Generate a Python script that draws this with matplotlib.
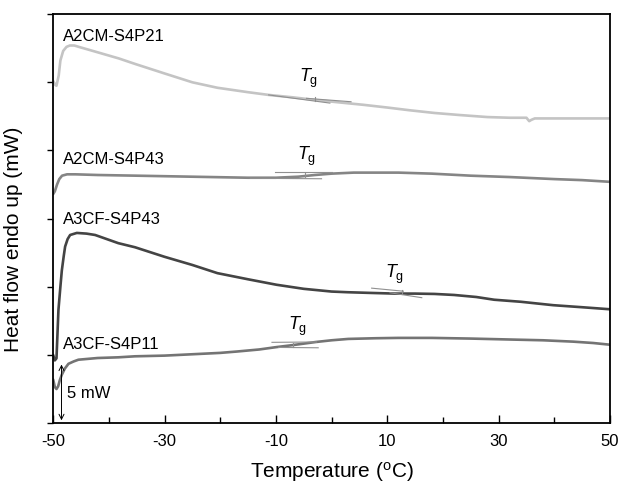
import matplotlib
matplotlib.use("Agg")
import matplotlib.pyplot as plt

plt.rcParams['font.family'] = ['Liberation Sans', 'DejaVu Sans']
plt.rcParams['mathtext.fontset'] = 'custom'
plt.rcParams['mathtext.rm'] = 'Liberation Sans'
plt.rcParams['mathtext.it'] = 'Liberation Sans:italic'
plt.rcParams['axes.unicode_minus'] = False

# ---- data (temperature in degC, heat flow in tick units; 1 unit ~ 5 mW) ----
x_a2cm_p21 = [-50, -49.6, -49.4, -49.0, -48.7, -48.2, -47.6, -47.0, -46.2, -45.4, -42, -38.2, -35.3,
              -30, -25, -20.5, -15, -11.3, -7, -2.8, 2, 5.7, 10, 14, 18.5, 23, 28, 32, 35.0, 35.5,
              35.9, 36.5, 40, 45, 50]
y_a2cm_p21 = [5.02, 4.96, 4.95, 5.10, 5.32, 5.46, 5.52, 5.54, 5.54, 5.52, 5.44, 5.35, 5.27,
              5.13, 5.00, 4.92, 4.855, 4.815, 4.78, 4.74, 4.70, 4.67, 4.63, 4.59, 4.55, 4.52, 4.49, 4.48,
              4.48, 4.43, 4.45, 4.47, 4.47, 4.47, 4.47]

x_a2cm_p43 = [-50, -49.7, -49.3, -48.9, -48.4, -47.5, -46, -42, -35, -25, -15, -10, -6, -3, 0, 4, 8,
              12, 18, 25, 32, 40, 45, 50]
y_a2cm_p43 = [3.36, 3.40, 3.50, 3.58, 3.63, 3.65, 3.65, 3.64, 3.63, 3.615, 3.60, 3.60, 3.615, 3.64,
              3.66, 3.675, 3.675, 3.675, 3.66, 3.63, 3.61, 3.58, 3.565, 3.54]

x_a3cf_p43 = [-50, -49.7, -49.4, -49.05, -48.7, -48.44, -48.1, -47.85, -47.4, -46.95, -45.75, -44,
              -42.46, -38.3, -35.3, -30, -25, -20.5, -15, -9.9, -5, 0, 2.9, 7, 11.4, 15, 18.5, 22, 26,
              29.2, 34, 39.8, 45, 50]
y_a3cf_p43 = [1.0, 0.92, 0.95, 1.66, 2.0, 2.24, 2.45, 2.59, 2.70, 2.76, 2.79, 2.78,
              2.76, 2.64, 2.58, 2.44, 2.32, 2.20, 2.11, 2.03, 1.97, 1.93, 1.92, 1.91, 1.90, 1.90, 1.895,
              1.88, 1.85, 1.81, 1.78, 1.73, 1.70, 1.67]

x_a3cf_p11 = [-50, -49.7, -49.4, -49.1, -48.8, -48.44, -47.9, -47.25, -46.3, -45.46, -42, -38.3,
              -35.3, -30, -25, -20, -17, -13, -9.9, -6.9, -2.8, 0, 3, 7.9, 12, 18, 25, 32.7, 38, 43.4,
              47, 50]
y_a3cf_p11 = [0.64, 0.53, 0.50, 0.54, 0.63, 0.71, 0.80, 0.87, 0.905, 0.93, 0.955, 0.965,
              0.98, 0.99, 1.01, 1.03, 1.05, 1.08, 1.115, 1.145, 1.19, 1.215, 1.235, 1.245, 1.25, 1.25,
              1.24, 1.225, 1.215, 1.195, 1.175, 1.15]

series_names = ['A2CM-S4P21', 'A2CM-S4P43', 'A3CF-S4P43', 'A3CF-S4P11']
series_colors = ['#c4c4c4', '#858585', '#444444', '#747474']
label_y = [5.67, 3.87, 2.98, 1.15]

# Tg tangent lines: (x0, y0, x1, y1)
tangents = [
    [(-11.3, 4.815, -0.3, 4.695), (-4.5, 4.765, 3.5, 4.715)],
    [(-10.1, 3.678, 0.0, 3.678), (-14.6, 3.592, -1.8, 3.585)],
    [(7.2, 1.98, 12.9, 1.935), (10.5, 1.912, 16.2, 1.84)],
    [(-10.7, 1.185, -2.7, 1.19), (-9.5, 1.11, -2.4, 1.105)],
]
tg_x = [-3.0, -4.8, 12.6, -6.9]
tg_y = [4.75, 3.635, 1.925, 1.15]
tg_label_xy = [(-4.2, 5.06), (-4.5, 3.91), (11.4, 2.18), (-6.1, 1.42)]

fig = plt.figure(figsize=(6.18, 4.88), dpi=100)
ax = fig.add_axes([0.086, 0.133, 0.901, 0.838])

xs = [x_a2cm_p21, x_a2cm_p43, x_a3cf_p43, x_a3cf_p11]
ys = [y_a2cm_p21, y_a2cm_p43, y_a3cf_p43, y_a3cf_p11]
for x, y, c in zip(xs, ys, series_colors):
    ax.plot(x, y, color=c, lw=1.9, solid_capstyle='round', solid_joinstyle='round')

for name, ly in zip(series_names, label_y):
    ax.text(-48.2, ly, name, fontsize=12, ha='left', va='center')

for tl in tangents:
    for (x0, y0, x1, y1) in tl:
        ax.plot([x0, x1], [y0, y1], color='#909090', lw=0.8)
for tx, ty in zip(tg_x, tg_y):
    ax.plot([tx, tx], [ty - 0.03, ty + 0.03], color='#909090', lw=0.8)
for (lx, ly) in tg_label_xy:
    ax.text(lx, ly, r'$T_{\mathregular{g}}$', fontsize=13, ha='center', va='center')

# 5 mW scale bar
ax.annotate('', xy=(-48.5, 0.0), xytext=(-48.5, 0.9),
            arrowprops=dict(arrowstyle='<->', color='black', lw=0.7, mutation_scale=9))
ax.text(-47.6, 0.44, '5 mW', fontsize=12, ha='left', va='center')

ax.set_xlim(-50, 50)
ax.set_ylim(0, 6)
ax.set_xticks([-50, -30, -10, 10, 30, 50])
ax.set_xticks([-40, -20, 0, 20, 40], minor=True)
ax.set_yticks([0, 1, 2, 3, 4, 5, 6])
ax.set_yticklabels([])
ax.tick_params(axis='x', direction='in', length=6, width=1.0, labelsize=12, pad=8)
ax.tick_params(axis='x', which='minor', direction='in', length=4, width=1.0)
ax.tick_params(axis='y', direction='out', length=4, width=1.0)
for s in ax.spines.values():
    s.set_linewidth(1.3)

ax.set_xlabel(r'Temperature ($^{\mathregular{o}}$C)', fontsize=15, labelpad=8)
ax.set_ylabel('Heat flow endo up (mW)', fontsize=15, labelpad=12)
ax.yaxis.set_label_coords(-0.055, 0.45)

fig.savefig('out.png', dpi=100)
